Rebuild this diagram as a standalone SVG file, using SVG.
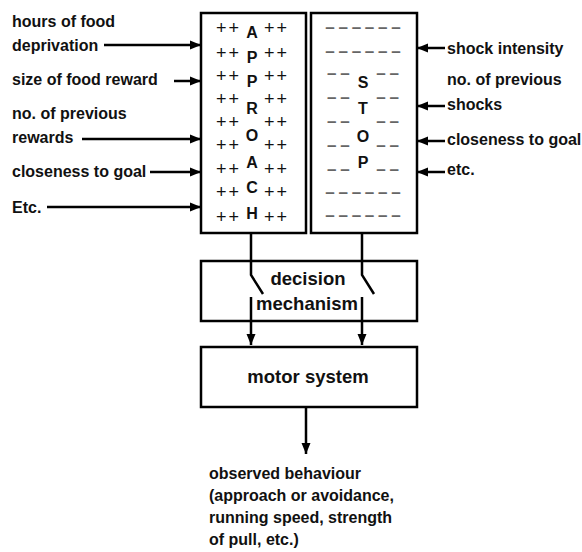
<svg xmlns="http://www.w3.org/2000/svg" width="582" height="552" viewBox="0 0 582 552">
<defs>
<style>
.box{fill:#fff;stroke:#000;stroke-width:2.5}
.lbl{font-family:"Liberation Sans",Arial,sans-serif;font-weight:bold;font-size:16px;fill:#111}
.big{font-family:"Liberation Sans",Arial,sans-serif;font-weight:bold;font-size:18.5px;fill:#111}
.plus{font-family:"Liberation Sans",Arial,sans-serif;font-size:18px;letter-spacing:2px;fill:#111}
.dash{font-family:"Liberation Sans",Arial,sans-serif;font-weight:bold;font-size:17px;word-spacing:-1px;fill:#666}
.con{fill:none;stroke:#000;stroke-width:2.5}
</style>
<marker id="ah" markerWidth="12" markerHeight="10" refX="11" refY="5" orient="auto" markerUnits="userSpaceOnUse">
<path d="M0,0.5 L11,5 L0,9.5 Z" fill="#000"/>
</marker>
</defs>
<rect width="582" height="552" fill="#fff"/>

<g id="approach">
<rect class="box" x="201" y="13" width="105" height="220"/>
<g class="plus">
<text x="216" y="34">++</text><text x="264" y="34">++</text>
<text x="216" y="59">++</text><text x="264" y="59">++</text>
<text x="216" y="82">++</text><text x="264" y="82">++</text>
<text x="216" y="105">++</text><text x="264" y="105">++</text>
<text x="216" y="128">++</text><text x="264" y="128">++</text>
<text x="216" y="151">++</text><text x="264" y="151">++</text>
<text x="216" y="175">++</text><text x="264" y="175">++</text>
<text x="216" y="198">++</text><text x="264" y="198">++</text>
<text x="216" y="223">++</text><text x="264" y="223">++</text>
</g>
<g class="lbl" text-anchor="middle">
<text x="252" y="38">A</text>
<text x="252" y="63">P</text>
<text x="252" y="87">P</text>
<text x="252" y="114">R</text>
<text x="252" y="141">O</text>
<text x="252" y="168">A</text>
<text x="252" y="193">C</text>
<text x="252" y="219">H</text>
</g>
</g>

<g id="stop">
<rect class="box" x="311" y="13" width="106" height="220"/>
<g class="dash">
<text x="363" y="33" text-anchor="middle">– – – – – –</text>
<text x="363" y="57" text-anchor="middle">– – – – – –</text>
<text x="327" y="79">– –</text><text x="399" y="79" text-anchor="end">– –</text>
<text x="327" y="103">– –</text><text x="399" y="103" text-anchor="end">– –</text>
<text x="327" y="127">– –</text><text x="399" y="127" text-anchor="end">– –</text>
<text x="327" y="151">– –</text><text x="399" y="151" text-anchor="end">– –</text>
<text x="327" y="175">– –</text><text x="399" y="175" text-anchor="end">– –</text>
<text x="363" y="198" text-anchor="middle">– – – – – –</text>
<text x="363" y="221" text-anchor="middle">– – – – – –</text>
</g>
<g class="lbl" text-anchor="middle">
<text x="363" y="88">S</text>
<text x="363" y="114">T</text>
<text x="363" y="142">O</text>
<text x="363" y="168">P</text>
</g>
</g>

<g id="decision">
<rect class="box" x="201" y="261" width="216" height="60"/>
<text class="big" x="308" y="285" text-anchor="middle">decision</text>
<text class="big" x="307" y="310" text-anchor="middle">mechanism</text>
</g>

<g id="motor">
<rect class="box" x="201" y="347" width="216" height="60"/>
<text class="big" x="308" y="383" text-anchor="middle">motor system</text>
</g>

<g id="left-inputs" class="lbl">
<text x="12" y="27">hours of food</text>
<text x="12" y="51">deprivation</text>
<text x="12" y="85">size of food reward</text>
<text x="12" y="119">no. of previous</text>
<text x="12" y="143">rewards</text>
<text x="12" y="177">closeness to goal</text>
<text x="12" y="213">Etc.</text>
</g>

<g id="right-inputs" class="lbl">
<text x="447" y="54">shock intensity</text>
<text x="447" y="85">no. of previous</text>
<text x="447" y="110">shocks</text>
<text x="447" y="145">closeness to goal</text>
<text x="447" y="175">etc.</text>
</g>

<g id="output">
<text class="lbl" x="209" y="479">observed behaviour</text>
<text class="lbl" x="209" y="501">(approach or avoidance,</text>
<text class="lbl" x="209" y="523">running speed, strength</text>
<text class="lbl" x="209" y="545">of pull, etc.)</text>
</g>

<g id="connectors">
<line class="con" x1="104" y1="45" x2="201" y2="45" marker-end="url(#ah)"/>
<line class="con" x1="174" y1="81" x2="201" y2="81" marker-end="url(#ah)"/>
<line class="con" x1="82" y1="139" x2="201" y2="139" marker-end="url(#ah)"/>
<line class="con" x1="150" y1="172" x2="201" y2="172" marker-end="url(#ah)"/>
<line class="con" x1="47" y1="207" x2="201" y2="207" marker-end="url(#ah)"/>
<line class="con" x1="445" y1="48" x2="417" y2="48" marker-end="url(#ah)"/>
<line class="con" x1="445" y1="106" x2="417" y2="106" marker-end="url(#ah)"/>
<line class="con" x1="445" y1="141" x2="417" y2="141" marker-end="url(#ah)"/>
<line class="con" x1="445" y1="172" x2="417" y2="172" marker-end="url(#ah)"/>
<polyline class="con" points="251,233 251,275 263,294"/>
<polyline class="con" points="362,233 362,275 374,294"/>
<line class="con" x1="251" y1="297" x2="251" y2="345" marker-end="url(#ah)"/>
<line class="con" x1="362" y1="297" x2="362" y2="345" marker-end="url(#ah)"/>
<line class="con" x1="306" y1="407" x2="306" y2="454" marker-end="url(#ah)"/>
</g>
</svg>
